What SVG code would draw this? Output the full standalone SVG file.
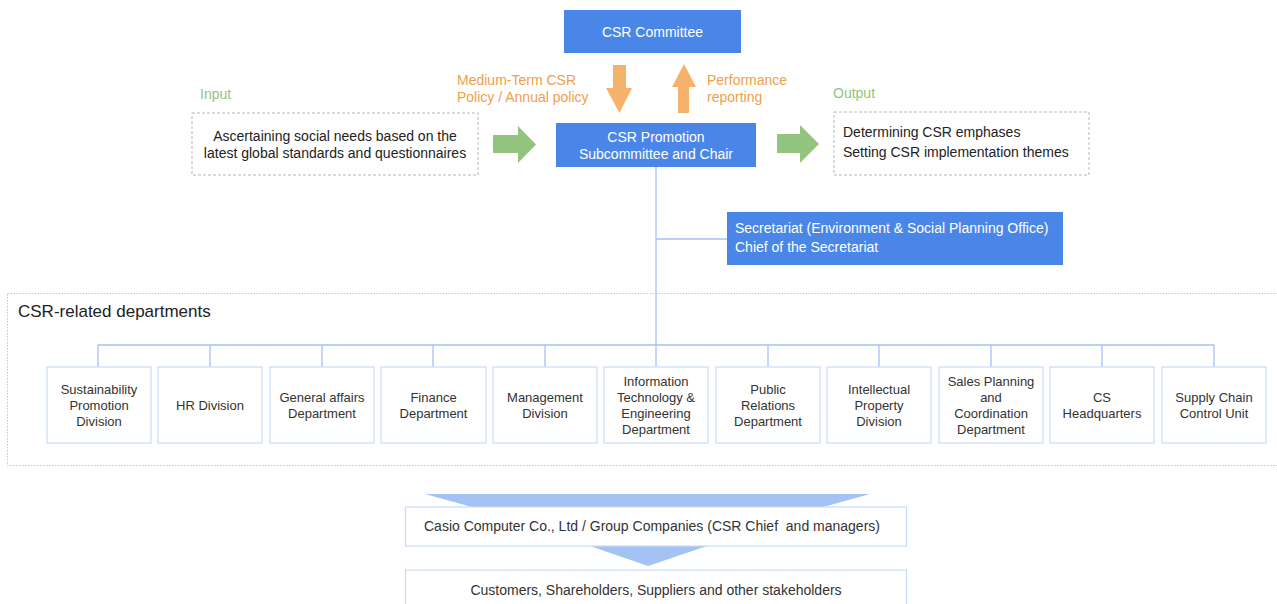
<svg xmlns="http://www.w3.org/2000/svg" width="1277" height="604" viewBox="0 0 1277 604">
<style>
text{font-family:"Liberation Sans",Arial,sans-serif;}
.blue{fill:#4a86e8;}
.wt{fill:#ffffff;font-size:14px;text-anchor:middle;}
.wl{fill:#ffffff;font-size:14px;}
.or{fill:#f6b26b;}
.ot{fill:#f0a04b;font-size:14px;}
.gr{fill:#93c47d;}
.gt{fill:#93c47d;font-size:14px;}
.dash{fill:#ffffff;stroke:#b7b7b7;stroke-width:1;stroke-dasharray:3,2;}
.bt{fill:#222222;font-size:14px;}
.dept{fill:#ffffff;stroke:#c9daf8;stroke-width:1.2;}
.dt{fill:#333333;font-size:13px;text-anchor:middle;}
.bb{fill:#333333;font-size:14px;text-anchor:middle;white-space:pre;}
.ln{fill:none;stroke:#a4c2f4;stroke-width:1.3;}
.lb{fill:#ffffff;stroke:#c9daf8;stroke-width:1.2;}
</style>
<rect width="1277" height="604" fill="#ffffff"/>

<g id="csr-related-group">
<rect x="7.5" y="293.5" width="1275" height="172" fill="none" stroke="#b9c6d6" stroke-width="1" stroke-dasharray="1.5,1.5"/>
<text x="18" y="317" font-size="17" fill="#222222">CSR-related departments</text>
</g>

<g id="connectors">
<path class="ln" d="M656 167 V345 M656 239 H727 M98 345 H1214 M98 345 V367 M210 345 V367 M322 345 V367 M433 345 V367 M545 345 V367 M656 345 V367 M768 345 V367 M879 345 V367 M991 345 V367 M1102 345 V367 M1214 345 V367"/>
<polygon class="or" points="613,65 626,65 626,88 632,88 619.5,113 606,88 613,88"/>
<polygon class="or" points="678,113 689,113 689,87 696,87 684,64 672,87 678,87"/>
<polygon class="gr" points="493,135 518,135 518,126 536,144.5 518,163 518,153 493,153"/>
<polygon class="gr" points="777,134 800,134 800,125 819,144 800,163 800,153 777,153"/>
<polygon fill="#a4c2f4" points="425,494 870,494 823,507 472,507"/>
<polygon fill="#a4c2f4" points="590,546 707,546 648,566"/>
</g>

<g id="label-medium">
<text class="ot" x="457" y="85">Medium-Term CSR</text>
<text class="ot" x="457" y="102">Policy / Annual policy</text>
</g>
<g id="label-performance">
<text class="ot" x="707" y="85">Performance</text>
<text class="ot" x="707" y="102">reporting</text>
</g>

<g id="csr-committee">
<rect class="blue" x="564" y="10" width="177" height="43"/>
<text class="wt" x="652.5" y="37">CSR Committee</text>
</g>

<g id="csr-promotion">
<rect class="blue" x="556" y="123" width="200" height="44"/>
<text class="wt" x="656" y="142">CSR Promotion</text>
<text class="wt" x="656" y="159">Subcommittee and Chair</text>
</g>

<g id="input">
<text class="gt" x="200" y="99">Input</text>
<rect class="dash" x="192" y="113" width="286" height="62"/>
<text class="bt" x="335" y="141" text-anchor="middle">Ascertaining social needs based on the</text>
<text class="bt" x="335" y="158" text-anchor="middle">latest global standards and questionnaires</text>
</g>

<g id="output">
<text class="gt" x="833" y="98">Output</text>
<rect class="dash" x="834" y="112" width="255" height="63"/>
<text class="bt" x="843" y="137">Determining CSR emphases</text>
<text class="bt" x="843" y="157">Setting CSR implementation themes</text>
</g>

<g id="secretariat">
<rect class="blue" x="727" y="212" width="336" height="53"/>
<text class="wl" x="735" y="233">Secretariat (Environment &amp; Social Planning Office)</text>
<text class="wl" x="735" y="252">Chief of the Secretariat</text>
</g>

<g id="dept-1"><rect class="dept" x="47" y="367" width="104" height="76"/>
<text class="dt" x="99" y="393.5">Sustainability</text><text class="dt" x="99" y="409.5">Promotion</text><text class="dt" x="99" y="425.5">Division</text></g>
<g id="dept-2"><rect class="dept" x="158" y="367" width="104" height="76"/>
<text class="dt" x="210" y="409.5">HR Division</text></g>
<g id="dept-3"><rect class="dept" x="270" y="367" width="104" height="76"/>
<text class="dt" x="322" y="401.5">General affairs</text><text class="dt" x="322" y="417.5">Department</text></g>
<g id="dept-4"><rect class="dept" x="381" y="367" width="105" height="76"/>
<text class="dt" x="433.5" y="401.5">Finance</text><text class="dt" x="433.5" y="417.5">Department</text></g>
<g id="dept-5"><rect class="dept" x="493" y="367" width="104" height="76"/>
<text class="dt" x="545" y="401.5">Management</text><text class="dt" x="545" y="417.5">Division</text></g>
<g id="dept-6"><rect class="dept" x="604" y="367" width="104" height="76"/>
<text class="dt" x="656" y="385.5">Information</text><text class="dt" x="656" y="401.5">Technology &amp;</text><text class="dt" x="656" y="417.5">Engineering</text><text class="dt" x="656" y="433.5">Department</text></g>
<g id="dept-7"><rect class="dept" x="716" y="367" width="104" height="76"/>
<text class="dt" x="768" y="393.5">Public</text><text class="dt" x="768" y="409.5">Relations</text><text class="dt" x="768" y="425.5">Department</text></g>
<g id="dept-8"><rect class="dept" x="827" y="367" width="104" height="76"/>
<text class="dt" x="879" y="393.5">Intellectual</text><text class="dt" x="879" y="409.5">Property</text><text class="dt" x="879" y="425.5">Division</text></g>
<g id="dept-9"><rect class="dept" x="939" y="367" width="104" height="76"/>
<text class="dt" x="991" y="385.5">Sales Planning</text><text class="dt" x="991" y="401.5">and</text><text class="dt" x="991" y="417.5">Coordination</text><text class="dt" x="991" y="433.5">Department</text></g>
<g id="dept-10"><rect class="dept" x="1050" y="367" width="104" height="76"/>
<text class="dt" x="1102" y="401.5">CS</text><text class="dt" x="1102" y="417.5">Headquarters</text></g>
<g id="dept-11"><rect class="dept" x="1162" y="367" width="104" height="76"/>
<text class="dt" x="1214" y="401.5">Supply Chain</text><text class="dt" x="1214" y="417.5">Control Unit</text></g>

<g id="casio">
<rect class="lb" x="405.5" y="507" width="501" height="39"/>
<text class="bb" x="652" y="531" xml:space="preserve">Casio Computer Co., Ltd / Group Companies (CSR Chief  and managers)</text>
</g>
<g id="stakeholders">
<rect class="lb" x="405.5" y="570" width="501" height="40"/>
<text class="bb" x="656" y="595">Customers, Shareholders, Suppliers and other stakeholders</text>
</g>
</svg>
